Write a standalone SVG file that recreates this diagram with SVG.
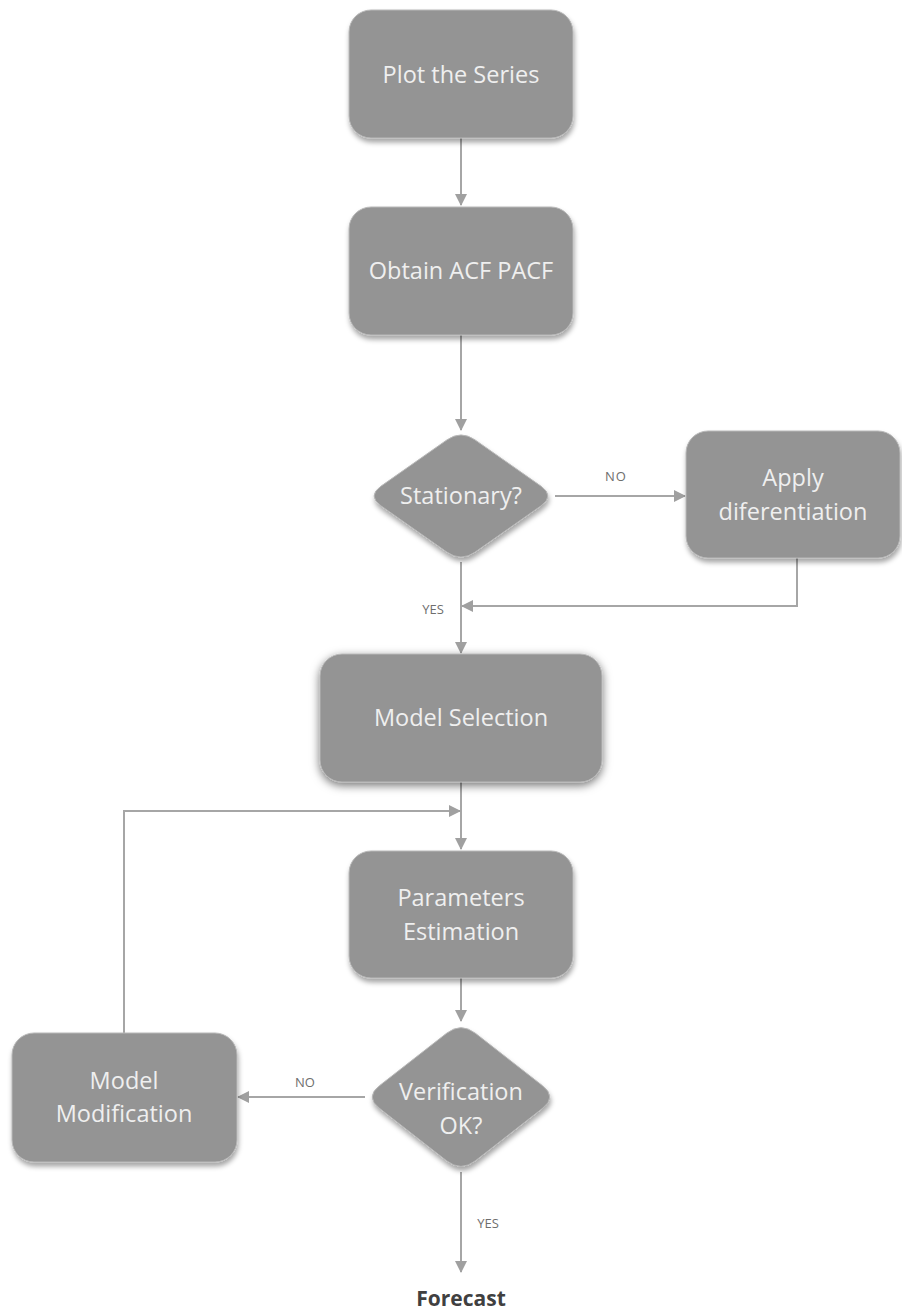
<svg xmlns="http://www.w3.org/2000/svg" width="902" height="1310" viewBox="0 0 902 1310">
  <style>
    .box { fill: #949494; stroke: #b8b8b8; stroke-width: 1; }
    .lbl { font-family: "Open Sans", "Noto Sans", sans-serif; font-size: 23.5px; fill: #efefef; text-anchor: middle; }
    .edge { fill: none; stroke: #a6a6a6; stroke-width: 2; }
    .tag { font-family: "Open Sans", "Noto Sans", sans-serif; font-size: 13px; fill: #6e6e6e; text-anchor: middle; }
    .end { font-family: "Open Sans", "Noto Sans", sans-serif; font-size: 21px; font-weight: bold; fill: #404040; text-anchor: middle; }
  </style>
  <defs>
    <filter id="shadow" x="-10%" y="-10%" width="125%" height="130%">
      <feDropShadow dx="1" dy="4" stdDeviation="2.5" flood-color="#000" flood-opacity="0.35"/>
    </filter>
    <filter id="glow" x="-15%" y="-20%" width="130%" height="145%">
      <feDropShadow dx="0" dy="3" stdDeviation="5" flood-color="#000" flood-opacity="0.55"/>
    </filter>
    <marker id="arrow" viewBox="0 0 12 12" refX="11" refY="6" markerWidth="12" markerHeight="12" markerUnits="userSpaceOnUse" orient="auto">
      <path d="M0,0 L12,6 L0,12 Z" fill="#a0a0a0"/>
    </marker>
  </defs>

  <g id="connectors">
    <line class="edge" x1="461" y1="138" x2="461" y2="205" marker-end="url(#arrow)"/>
    <line class="edge" x1="461" y1="335" x2="461" y2="430" marker-end="url(#arrow)"/>
    <line class="edge" x1="555" y1="496" x2="685" y2="496" marker-end="url(#arrow)"/>
    <polyline class="edge" points="797,558 797,606 462,606" marker-end="url(#arrow)"/>
    <line class="edge" x1="461" y1="562" x2="461" y2="653" marker-end="url(#arrow)"/>
    <line class="edge" x1="461" y1="782" x2="461" y2="849" marker-end="url(#arrow)"/>
    <polyline class="edge" points="124,1033 124,811 460,811" marker-end="url(#arrow)"/>
    <line class="edge" x1="461" y1="978" x2="461" y2="1021" marker-end="url(#arrow)"/>
    <line class="edge" x1="365" y1="1097" x2="238" y2="1097" marker-end="url(#arrow)"/>
    <line class="edge" x1="461" y1="1172" x2="461" y2="1272" marker-end="url(#arrow)"/>
    <text class="tag" x="616" y="481" letter-spacing="1">NO</text>
    <text class="tag" x="433" y="614" font-size="11">YES</text>
    <text class="tag" x="305" y="1087" font-size="11.5">NO</text>
    <text class="tag" x="488" y="1228">YES</text>
  </g>

  <g id="plot-series">
    <rect class="box" x="349" y="10" width="224" height="128" rx="22" filter="url(#shadow)"/>
    <text class="lbl" x="461" y="83">Plot the Series</text>
  </g>

  <g id="obtain-acf">
    <rect class="box" x="349" y="207" width="224" height="128" rx="22" filter="url(#shadow)"/>
    <text class="lbl" x="461" y="279">Obtain ACF PACF</text>
  </g>

  <g id="stationary">
    <path class="box" filter="url(#shadow)" d="M446.9,439.9 Q461,430 475.1,439.9 L540.9,486.1 Q555,496 540.9,505.9 L475.1,552.1 Q461,562 446.9,552.1 L381.1,505.9 Q367,496 381.1,486.1 Z"/>
    <text class="lbl" x="461" y="504">Stationary?</text>
  </g>

  <g id="apply-diff">
    <rect class="box" x="686" y="431" width="214" height="127" rx="22" filter="url(#shadow)"/>
    <text class="lbl" x="793" y="486">Apply</text>
    <text class="lbl" x="793" y="520">diferentiation</text>
  </g>

  <g id="model-selection">
    <rect class="box" x="320" y="654" width="282" height="128" rx="22" filter="url(#glow)"/>
    <text class="lbl" x="461" y="726">Model Selection</text>
  </g>

  <g id="parameters">
    <rect class="box" x="349" y="851" width="224" height="127" rx="22" filter="url(#shadow)"/>
    <text class="lbl" x="461" y="906">Parameters</text>
    <text class="lbl" x="461" y="940">Estimation</text>
  </g>

  <g id="verification">
    <path class="box" filter="url(#shadow)" d="M446.6,1033.25 Q461,1022 475.4,1033.25 L542.6,1085.75 Q557,1097 542.6,1108.25 L475.4,1160.75 Q461,1172 446.6,1160.75 L379.4,1108.25 Q365,1097 379.4,1085.75 Z"/>
    <text class="lbl" x="461" y="1100">Verification</text>
    <text class="lbl" x="461" y="1134">OK?</text>
  </g>

  <g id="model-modification">
    <rect class="box" x="12" y="1033" width="225" height="129" rx="22" filter="url(#shadow)"/>
    <text class="lbl" x="124" y="1089">Model</text>
    <text class="lbl" x="124" y="1122">Modification</text>
  </g>

  <g id="forecast">
    <text class="end" x="461" y="1306">Forecast</text>
  </g>
</svg>
